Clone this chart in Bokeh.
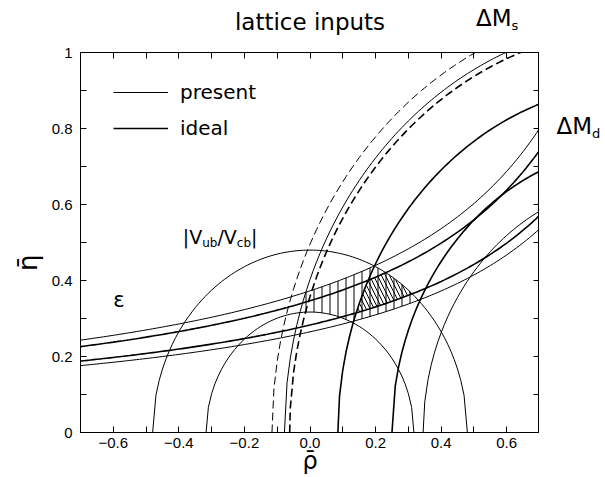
import numpy as np
from bokeh.plotting import figure
from bokeh.layouts import column, row
from bokeh.models import Range1d, FixedTicker, LinearAxis, Label, Legend, LegendItem
from bokeh.embed import file_html
from bokeh.resources import INLINE

# ---------------- values ----------------
rho_step = 0.01                       # sampling step of the original curves
vub_radii = [0.317, 0.48]             # |Vub/Vcb| circles around (0,0)
eps_present_a = [1.311, 1.385]        # eps hyperbolas  eta = c/(a-rho): present (upper, lower)
eps_present_c = [0.4887, 0.3669]
eps_ideal_a = [1.313, 1.387]          # ideal (upper, lower)
eps_ideal_c = [0.455, 0.3924]
dmd_present_radii = [0.655, 1.078]    # Delta M_d circles around (1,0)
dmd_ideal_radii = [0.75, 0.915]
dms_present_radii = [1.116]           # Delta M_s bound circles around (1,0)
dms_ideal_radii = [1.062]
x_ticks = [-0.6, -0.4, -0.2, 0.0, 0.2, 0.4, 0.6]
x_tick_labels = ["\u22120.6", "\u22120.4", "\u22120.2", "0.0", "0.2", "0.4", "0.6"]
x_minor = [-0.7, -0.5, -0.3, -0.1, 0.1, 0.3, 0.5, 0.7]
y_ticks = [0.0, 0.2, 0.4, 0.6, 0.8, 1.0]
y_tick_labels = ["0", "0.2", "0.4", "0.6", "0.8", "1"]
y_minor = [0.1, 0.3, 0.5, 0.7, 0.9]

XMIN, XMAX, YMIN, YMAX = -0.7, 0.7, 0.0, 1.0
rho_grid = np.round(np.arange(-70, 71) * rho_step, 4)

THIN, THICK = 1.0, 1.6
FONT = "DejaVu Sans"
HEAD_H, TOP_B, BOT_B = 40, 12, 45
MAIN_H = 477 - HEAD_H
LEFT_W, RIGHT_W = 45, 66
BASELINE_FIX = 0.37          # Bokeh's alphabetic anchor sits ~0.37 em below the true baseline


def circle(cx, R):
    inner = rho_grid[(rho_grid > cx - R + 1e-9) & (rho_grid < cx + R - 1e-9)]
    pts = []
    if cx - R >= XMIN:
        pts.append(cx - R)
    pts.extend(inner.tolist())
    if cx + R <= XMAX:
        pts.append(cx + R)
    xs = np.array(pts)
    ys = np.sqrt(np.clip(R ** 2 - (xs - cx) ** 2, 0, None))
    return xs, ys


def hyperbola(a, c):
    return rho_grid, c / (a - rho_grid)


def bare(fig):
    fig.grid.visible = False
    fig.outline_line_color = None
    fig.background_fill_color = "white"
    fig.border_fill_color = "white"


# ---------------- main plot ----------------
p = figure(width=539 - LEFT_W, height=MAIN_H, x_range=Range1d(XMIN, XMAX), y_range=Range1d(YMIN, YMAX),
           output_backend="svg", toolbar_location=None, title=None,
           min_border_left=80 - LEFT_W, min_border_right=0, min_border_top=TOP_B, min_border_bottom=BOT_B,
           x_axis_location=None, y_axis_location=None)
p.grid.visible = False
p.outline_line_color = "black"
p.outline_line_width = 1
p.background_fill_color = "white"
p.border_fill_color = "white"

# hatched allowed regions
fine = np.linspace(XMIN, XMAX, 2801)


def lower_circ(cx, R):
    return np.sqrt(np.clip(R ** 2 - (fine - cx) ** 2, 0, None))


def upper_circ(cx, R):
    v = R ** 2 - (fine - cx) ** 2
    return np.where(v >= 0, np.sqrt(np.clip(v, 0, None)), -1.0)


def region(lows, highs):
    lo = np.maximum.reduce(lows)
    hi = np.minimum.reduce(highs)
    m = lo < hi
    xs = np.concatenate([fine[m], fine[m][::-1]])
    ys = np.concatenate([hi[m], lo[m][::-1]])
    return xs, ys


px, py = region(
    [lower_circ(0, vub_radii[0]), eps_present_c[1] / (eps_present_a[1] - fine), lower_circ(1, dmd_present_radii[0])],
    [upper_circ(0, vub_radii[1]), eps_present_c[0] / (eps_present_a[0] - fine), upper_circ(1, dmd_present_radii[1]),
     upper_circ(1, dms_present_radii[0])])
ix, iy = region(
    [lower_circ(0, vub_radii[0]), eps_ideal_c[1] / (eps_ideal_a[1] - fine), lower_circ(1, dmd_ideal_radii[0])],
    [upper_circ(0, vub_radii[1]), eps_ideal_c[0] / (eps_ideal_a[0] - fine), upper_circ(1, dmd_ideal_radii[1]),
     upper_circ(1, dms_ideal_radii[0])])

p.patch(px, py, fill_color=None, line_color=None, hatch_pattern="|", hatch_scale=8,
        hatch_color="black", hatch_weight=1)
p.patch(ix, iy, fill_color=None, line_color=None, hatch_pattern="\\", hatch_scale=8,
        hatch_color="black", hatch_weight=1)

# curves
legend_present = None
legend_ideal = None
for R in vub_radii:
    xs, ys = circle(0.0, R)
    r = p.line(xs, ys, line_color="black", line_width=THIN)
    legend_present = legend_present or r
for a, c in zip(eps_present_a, eps_present_c):
    xs, ys = hyperbola(a, c)
    p.line(xs, ys, line_color="black", line_width=THIN)
for a, c in zip(eps_ideal_a, eps_ideal_c):
    xs, ys = hyperbola(a, c)
    p.line(xs, ys, line_color="black", line_width=THICK)
for R in dmd_present_radii:
    xs, ys = circle(1.0, R)
    p.line(xs, ys, line_color="black", line_width=THIN)
for R in dmd_ideal_radii:
    xs, ys = circle(1.0, R)
    r = p.line(xs, ys, line_color="black", line_width=THICK)
    legend_ideal = legend_ideal or r
for R in dms_present_radii:
    xs, ys = circle(1.0, R)
    p.line(xs, ys, line_color="black", line_width=THIN, line_dash="8 4")
for R in dms_ideal_radii:
    xs, ys = circle(1.0, R)
    p.line(xs, ys, line_color="black", line_width=THICK, line_dash="8 4")


# axes (ticks inside, mirrored)
def style_axis(ax, ticks, minor, labels, show_labels):
    ax.ticker = FixedTicker(ticks=ticks, minor_ticks=minor)
    ax.major_tick_in = 6
    ax.major_tick_out = 0
    ax.minor_tick_in = 6
    ax.minor_tick_out = 0
    ax.major_tick_line_color = "black"
    ax.minor_tick_line_color = "black"
    ax.axis_line_color = "black"
    if show_labels:
        ax.major_label_overrides = {t: l for t, l in zip(ticks, labels)}
        ax.major_label_text_font = "Liberation Sans"
        ax.major_label_text_font_size = "15px"
        ax.major_label_text_color = "black"
    else:
        ax.major_label_text_font_size = "0px"
        ax.major_label_text_alpha = 0
        ax.major_label_standoff = 0


xb = LinearAxis()
style_axis(xb, x_ticks, x_minor, x_tick_labels, True)
xb.major_label_standoff = 5
xb.axis_label = "\u03c1\u0304"
xb.axis_label_text_font = FONT
xb.axis_label_text_font_size = "24px"
xb.axis_label_text_font_style = "normal"
xb.axis_label_text_color = "black"
xb.axis_label_standoff = -4
p.add_layout(xb, "below")
xt = LinearAxis()
style_axis(xt, x_ticks, x_minor, x_tick_labels, False)
p.add_layout(xt, "above")
yl = LinearAxis()
style_axis(yl, y_ticks, y_minor, y_tick_labels, True)
yl.major_label_standoff = 8
p.add_layout(yl, "left")
yr = LinearAxis()
style_axis(yr, y_ticks, y_minor, y_tick_labels, False)
p.add_layout(yr, "right")

# legend
legend = Legend(items=[LegendItem(label="present", renderers=[legend_present]),
                       LegendItem(label="ideal", renderers=[legend_ideal])],
                location=(33, 292), glyph_width=55, glyph_height=20, label_height=20,
                spacing=12, padding=0, margin=0, label_standoff=12,
                border_line_color=None, background_fill_alpha=0,
                label_text_font=FONT, label_text_font_size="20px", label_text_color="black")
p.add_layout(legend)

# ---------------- margins holding the outside texts ----------------
header = figure(width=605, height=HEAD_H, x_range=p.x_range, y_range=Range1d(0, HEAD_H),
                output_backend="svg", toolbar_location=None, title=None,
                min_border_left=80, min_border_right=RIGHT_W, min_border_top=0, min_border_bottom=0,
                x_axis_location=None, y_axis_location=None)
bare(header)
side = figure(width=RIGHT_W, height=MAIN_H, x_range=Range1d(0, RIGHT_W), y_range=p.y_range,
              output_backend="svg", toolbar_location=None, title=None,
              min_border_left=0, min_border_right=0, min_border_top=TOP_B, min_border_bottom=BOT_B,
              x_axis_location=None, y_axis_location=None)
bare(side)
left = figure(width=LEFT_W, height=MAIN_H, x_range=Range1d(0, LEFT_W), y_range=p.y_range,
              output_backend="svg", toolbar_location=None, title=None,
              min_border_left=0, min_border_right=0, min_border_top=TOP_B, min_border_bottom=BOT_B,
              x_axis_location=None, y_axis_location=None)
bare(left)

W = {"|": 0.337, "V": 0.684, "/": 0.337, "u": 0.634, "b": 0.635, "c": 0.550,
     "\u0394": 0.684, "M": 0.863, "s": 0.521, "d": 0.635}


def width(t, size):
    return sum(W.get(ch, 0.6) for ch in t) * size


def lab(fig, x, y, text, size, xo=0, yo=0, align="left", baseline="alphabetic", angle=0.0):
    if baseline == "alphabetic":
        yo = yo + BASELINE_FIX * size
    fig.add_layout(Label(x=x, y=y, text=text, x_offset=xo, y_offset=yo, text_font=FONT,
                         text_font_size=f"{size}px", text_color="black", text_align=align,
                         text_baseline=baseline, angle=angle))


def compound(fig, x, y, parts):
    xo = 0.0
    for text, size, yo in parts:
        lab(fig, x, y, text, size, xo=xo, yo=yo)
        xo += width(text, size)


lab(header, 0.0, HEAD_H - 30, "lattice inputs", 23, align="center")
compound(header, 0.506, HEAD_H - 26, [("\u0394M", 23, 0), ("s", 13, -4)])
compound(side, 17, 0.784, [("\u0394M", 23, 0), ("d", 13, -4)])
compound(p, -0.388, 0.497, [("|V", 19, 0), ("ub", 12, -4), ("/V", 19, 0), ("cb", 12, -4), ("|", 19, 0)])
lab(p, -0.60, 0.329, "\u03b5", 21)
lab(left, 27, 0.447, "\u03b7\u0304", 26, align="center", baseline="middle", angle=np.pi / 2)

layout = column(header, row(left, p, side))
open("out.html", "w").write(file_html(layout, INLINE))
